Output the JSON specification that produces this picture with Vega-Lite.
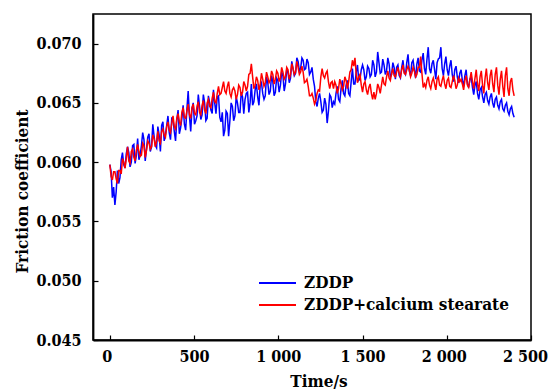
{
 "$schema": "https://vega.github.io/schema/vega-lite/v6.json",
 "width": 438,
 "height": 326,
 "autosize": {"type": "none"},
 "padding": {"left": 93, "top": 14, "right": 19, "bottom": 49},
 "background": "white",
 "data": {"values": [
{"t":0,"ZDDP":0.0598,"ZDDP+calcium stearate":0.0598},
{"t":7.5,"ZDDP":0.0592,"ZDDP+calcium stearate":0.0588},
{"t":15,"ZDDP":0.0570,"ZDDP+calcium stearate":0.0585},
{"t":22.5,"ZDDP":0.0579,"ZDDP+calcium stearate":0.0592},
{"t":30,"ZDDP":0.0564,"ZDDP+calcium stearate":0.0592},
{"t":37.5,"ZDDP":0.0575,"ZDDP+calcium stearate":0.0586},
{"t":45,"ZDDP":0.0593,"ZDDP+calcium stearate":0.0582},
{"t":52.5,"ZDDP":0.0582,"ZDDP+calcium stearate":0.0593},
{"t":60,"ZDDP":0.0587,"ZDDP+calcium stearate":0.0593},
{"t":67.5,"ZDDP":0.0602,"ZDDP+calcium stearate":0.0590},
{"t":75,"ZDDP":0.0608,"ZDDP+calcium stearate":0.0603},
{"t":82.5,"ZDDP":0.0598,"ZDDP+calcium stearate":0.0600},
{"t":90,"ZDDP":0.0595,"ZDDP+calcium stearate":0.0595},
{"t":97.5,"ZDDP":0.0607,"ZDDP+calcium stearate":0.0603},
{"t":105,"ZDDP":0.0613,"ZDDP+calcium stearate":0.0613},
{"t":112.5,"ZDDP":0.0608,"ZDDP+calcium stearate":0.0601},
{"t":120,"ZDDP":0.0596,"ZDDP+calcium stearate":0.0599},
{"t":127.5,"ZDDP":0.0600,"ZDDP+calcium stearate":0.0609},
{"t":135,"ZDDP":0.0614,"ZDDP+calcium stearate":0.0611},
{"t":142.5,"ZDDP":0.0615,"ZDDP+calcium stearate":0.0604},
{"t":150,"ZDDP":0.0599,"ZDDP+calcium stearate":0.0601},
{"t":157.5,"ZDDP":0.0606,"ZDDP+calcium stearate":0.0610},
{"t":165,"ZDDP":0.0620,"ZDDP+calcium stearate":0.0615},
{"t":172.5,"ZDDP":0.0602,"ZDDP+calcium stearate":0.0609},
{"t":180,"ZDDP":0.0606,"ZDDP+calcium stearate":0.0605},
{"t":187.5,"ZDDP":0.0614,"ZDDP+calcium stearate":0.0606},
{"t":195,"ZDDP":0.0625,"ZDDP+calcium stearate":0.0616},
{"t":202.5,"ZDDP":0.0619,"ZDDP+calcium stearate":0.0614},
{"t":210,"ZDDP":0.0601,"ZDDP+calcium stearate":0.0604},
{"t":217.5,"ZDDP":0.0611,"ZDDP+calcium stearate":0.0610},
{"t":225,"ZDDP":0.0621,"ZDDP+calcium stearate":0.0618},
{"t":232.5,"ZDDP":0.0624,"ZDDP+calcium stearate":0.0616},
{"t":240,"ZDDP":0.0609,"ZDDP+calcium stearate":0.0611},
{"t":247.5,"ZDDP":0.0613,"ZDDP+calcium stearate":0.0613},
{"t":255,"ZDDP":0.0632,"ZDDP+calcium stearate":0.0623},
{"t":262.5,"ZDDP":0.0622,"ZDDP+calcium stearate":0.0620},
{"t":270,"ZDDP":0.0614,"ZDDP+calcium stearate":0.0613},
{"t":277.5,"ZDDP":0.0612,"ZDDP+calcium stearate":0.0618},
{"t":285,"ZDDP":0.0630,"ZDDP+calcium stearate":0.0626},
{"t":292.5,"ZDDP":0.0623,"ZDDP+calcium stearate":0.0618},
{"t":300,"ZDDP":0.0609,"ZDDP+calcium stearate":0.0616},
{"t":307.5,"ZDDP":0.0631,"ZDDP+calcium stearate":0.0626},
{"t":315,"ZDDP":0.0634,"ZDDP+calcium stearate":0.0628},
{"t":322.5,"ZDDP":0.0618,"ZDDP+calcium stearate":0.0623},
{"t":330,"ZDDP":0.0623,"ZDDP+calcium stearate":0.0621},
{"t":337.5,"ZDDP":0.0631,"ZDDP+calcium stearate":0.0630},
{"t":345,"ZDDP":0.0639,"ZDDP+calcium stearate":0.0634},
{"t":352.5,"ZDDP":0.0625,"ZDDP+calcium stearate":0.0627},
{"t":360,"ZDDP":0.0619,"ZDDP+calcium stearate":0.0625},
{"t":367.5,"ZDDP":0.0637,"ZDDP+calcium stearate":0.0633},
{"t":375,"ZDDP":0.0636,"ZDDP+calcium stearate":0.0639},
{"t":382.5,"ZDDP":0.0626,"ZDDP+calcium stearate":0.0630},
{"t":390,"ZDDP":0.0618,"ZDDP+calcium stearate":0.0628},
{"t":397.5,"ZDDP":0.0636,"ZDDP+calcium stearate":0.0637},
{"t":405,"ZDDP":0.0644,"ZDDP+calcium stearate":0.0641},
{"t":412.5,"ZDDP":0.0624,"ZDDP+calcium stearate":0.0634},
{"t":420,"ZDDP":0.0629,"ZDDP+calcium stearate":0.0631},
{"t":427.5,"ZDDP":0.0637,"ZDDP+calcium stearate":0.0642},
{"t":435,"ZDDP":0.0648,"ZDDP+calcium stearate":0.0646},
{"t":442.5,"ZDDP":0.0632,"ZDDP+calcium stearate":0.0638},
{"t":450,"ZDDP":0.0627,"ZDDP+calcium stearate":0.0637},
{"t":457.5,"ZDDP":0.0645,"ZDDP+calcium stearate":0.0643},
{"t":465,"ZDDP":0.0660,"ZDDP+calcium stearate":0.0649},
{"t":472.5,"ZDDP":0.0639,"ZDDP+calcium stearate":0.0640},
{"t":480,"ZDDP":0.0626,"ZDDP+calcium stearate":0.0637},
{"t":487.5,"ZDDP":0.0645,"ZDDP+calcium stearate":0.0646},
{"t":495,"ZDDP":0.0650,"ZDDP+calcium stearate":0.0649},
{"t":502.5,"ZDDP":0.0632,"ZDDP+calcium stearate":0.0641},
{"t":510,"ZDDP":0.0635,"ZDDP+calcium stearate":0.0640},
{"t":517.5,"ZDDP":0.0639,"ZDDP+calcium stearate":0.0647},
{"t":525,"ZDDP":0.0657,"ZDDP+calcium stearate":0.0651},
{"t":532.5,"ZDDP":0.0647,"ZDDP+calcium stearate":0.0642},
{"t":540,"ZDDP":0.0636,"ZDDP+calcium stearate":0.0640},
{"t":547.5,"ZDDP":0.0640,"ZDDP+calcium stearate":0.0648},
{"t":555,"ZDDP":0.0657,"ZDDP+calcium stearate":0.0652},
{"t":562.5,"ZDDP":0.0650,"ZDDP+calcium stearate":0.0644},
{"t":570,"ZDDP":0.0635,"ZDDP+calcium stearate":0.0641},
{"t":577.5,"ZDDP":0.0637,"ZDDP+calcium stearate":0.0650},
{"t":585,"ZDDP":0.0656,"ZDDP+calcium stearate":0.0653},
{"t":592.5,"ZDDP":0.0650,"ZDDP+calcium stearate":0.0647},
{"t":600,"ZDDP":0.0644,"ZDDP+calcium stearate":0.0646},
{"t":607.5,"ZDDP":0.0641,"ZDDP+calcium stearate":0.0654},
{"t":615,"ZDDP":0.0661,"ZDDP+calcium stearate":0.0659},
{"t":622.5,"ZDDP":0.0650,"ZDDP+calcium stearate":0.0651},
{"t":630,"ZDDP":0.0641,"ZDDP+calcium stearate":0.0650},
{"t":637.5,"ZDDP":0.0655,"ZDDP+calcium stearate":0.0658},
{"t":645,"ZDDP":0.0656,"ZDDP+calcium stearate":0.0664},
{"t":652.5,"ZDDP":0.0638,"ZDDP+calcium stearate":0.0657},
{"t":660,"ZDDP":0.0634,"ZDDP+calcium stearate":0.0658},
{"t":667.5,"ZDDP":0.0642,"ZDDP+calcium stearate":0.0663},
{"t":675,"ZDDP":0.0622,"ZDDP+calcium stearate":0.0668},
{"t":682.5,"ZDDP":0.0627,"ZDDP+calcium stearate":0.0660},
{"t":690,"ZDDP":0.0643,"ZDDP+calcium stearate":0.0658},
{"t":697.5,"ZDDP":0.0641,"ZDDP+calcium stearate":0.0664},
{"t":705,"ZDDP":0.0622,"ZDDP+calcium stearate":0.0668},
{"t":712.5,"ZDDP":0.0635,"ZDDP+calcium stearate":0.0658},
{"t":720,"ZDDP":0.0650,"ZDDP+calcium stearate":0.0655},
{"t":727.5,"ZDDP":0.0647,"ZDDP+calcium stearate":0.0661},
{"t":735,"ZDDP":0.0635,"ZDDP+calcium stearate":0.0663},
{"t":742.5,"ZDDP":0.0639,"ZDDP+calcium stearate":0.0660},
{"t":750,"ZDDP":0.0655,"ZDDP+calcium stearate":0.0653},
{"t":757.5,"ZDDP":0.0650,"ZDDP+calcium stearate":0.0657},
{"t":765,"ZDDP":0.0642,"ZDDP+calcium stearate":0.0665},
{"t":772.5,"ZDDP":0.0642,"ZDDP+calcium stearate":0.0663},
{"t":780,"ZDDP":0.0659,"ZDDP+calcium stearate":0.0656},
{"t":787.5,"ZDDP":0.0655,"ZDDP+calcium stearate":0.0659},
{"t":795,"ZDDP":0.0641,"ZDDP+calcium stearate":0.0668},
{"t":802.5,"ZDDP":0.0653,"ZDDP+calcium stearate":0.0665},
{"t":810,"ZDDP":0.0658,"ZDDP+calcium stearate":0.0660},
{"t":817.5,"ZDDP":0.0659,"ZDDP+calcium stearate":0.0664},
{"t":825,"ZDDP":0.0642,"ZDDP+calcium stearate":0.0674},
{"t":832.5,"ZDDP":0.0650,"ZDDP+calcium stearate":0.0675},
{"t":840,"ZDDP":0.0666,"ZDDP+calcium stearate":0.0683},
{"t":847.5,"ZDDP":0.0648,"ZDDP+calcium stearate":0.0672},
{"t":855,"ZDDP":0.0651,"ZDDP+calcium stearate":0.0662},
{"t":862.5,"ZDDP":0.0661,"ZDDP+calcium stearate":0.0665},
{"t":870,"ZDDP":0.0666,"ZDDP+calcium stearate":0.0672},
{"t":877.5,"ZDDP":0.0655,"ZDDP+calcium stearate":0.0669},
{"t":885,"ZDDP":0.0648,"ZDDP+calcium stearate":0.0661},
{"t":892.5,"ZDDP":0.0665,"ZDDP+calcium stearate":0.0665},
{"t":900,"ZDDP":0.0667,"ZDDP+calcium stearate":0.0675},
{"t":907.5,"ZDDP":0.0658,"ZDDP+calcium stearate":0.0670},
{"t":915,"ZDDP":0.0653,"ZDDP+calcium stearate":0.0664},
{"t":922.5,"ZDDP":0.0656,"ZDDP+calcium stearate":0.0667},
{"t":930,"ZDDP":0.0672,"ZDDP+calcium stearate":0.0676},
{"t":937.5,"ZDDP":0.0667,"ZDDP+calcium stearate":0.0672},
{"t":945,"ZDDP":0.0657,"ZDDP+calcium stearate":0.0667},
{"t":952.5,"ZDDP":0.0660,"ZDDP+calcium stearate":0.0669},
{"t":960,"ZDDP":0.0673,"ZDDP+calcium stearate":0.0677},
{"t":967.5,"ZDDP":0.0668,"ZDDP+calcium stearate":0.0674},
{"t":975,"ZDDP":0.0656,"ZDDP+calcium stearate":0.0666},
{"t":982.5,"ZDDP":0.0659,"ZDDP+calcium stearate":0.0670},
{"t":990,"ZDDP":0.0671,"ZDDP+calcium stearate":0.0677},
{"t":997.5,"ZDDP":0.0669,"ZDDP+calcium stearate":0.0675},
{"t":1005,"ZDDP":0.0659,"ZDDP+calcium stearate":0.0668},
{"t":1012.5,"ZDDP":0.0665,"ZDDP+calcium stearate":0.0671},
{"t":1020,"ZDDP":0.0676,"ZDDP+calcium stearate":0.0680},
{"t":1027.5,"ZDDP":0.0673,"ZDDP+calcium stearate":0.0676},
{"t":1035,"ZDDP":0.0660,"ZDDP+calcium stearate":0.0670},
{"t":1042.5,"ZDDP":0.0666,"ZDDP+calcium stearate":0.0672},
{"t":1050,"ZDDP":0.0678,"ZDDP+calcium stearate":0.0680},
{"t":1057.5,"ZDDP":0.0676,"ZDDP+calcium stearate":0.0678},
{"t":1065,"ZDDP":0.0667,"ZDDP+calcium stearate":0.0670},
{"t":1072.5,"ZDDP":0.0671,"ZDDP+calcium stearate":0.0674},
{"t":1080,"ZDDP":0.0685,"ZDDP+calcium stearate":0.0683},
{"t":1087.5,"ZDDP":0.0679,"ZDDP+calcium stearate":0.0679},
{"t":1095,"ZDDP":0.0673,"ZDDP+calcium stearate":0.0674},
{"t":1102.5,"ZDDP":0.0675,"ZDDP+calcium stearate":0.0676},
{"t":1110,"ZDDP":0.0688,"ZDDP+calcium stearate":0.0685},
{"t":1117.5,"ZDDP":0.0685,"ZDDP+calcium stearate":0.0680},
{"t":1125,"ZDDP":0.0677,"ZDDP+calcium stearate":0.0674},
{"t":1132.5,"ZDDP":0.0679,"ZDDP+calcium stearate":0.0676},
{"t":1140,"ZDDP":0.0688,"ZDDP+calcium stearate":0.0681},
{"t":1147.5,"ZDDP":0.0686,"ZDDP+calcium stearate":0.0676},
{"t":1155,"ZDDP":0.0678,"ZDDP+calcium stearate":0.0667},
{"t":1162.5,"ZDDP":0.0679,"ZDDP+calcium stearate":0.0668},
{"t":1170,"ZDDP":0.0687,"ZDDP+calcium stearate":0.0670},
{"t":1177.5,"ZDDP":0.0684,"ZDDP+calcium stearate":0.0664},
{"t":1185,"ZDDP":0.0674,"ZDDP+calcium stearate":0.0656},
{"t":1192.5,"ZDDP":0.0676,"ZDDP+calcium stearate":0.0656},
{"t":1200,"ZDDP":0.0680,"ZDDP+calcium stearate":0.0658},
{"t":1207.5,"ZDDP":0.0670,"ZDDP+calcium stearate":0.0654},
{"t":1215,"ZDDP":0.0664,"ZDDP+calcium stearate":0.0649},
{"t":1222.5,"ZDDP":0.0651,"ZDDP+calcium stearate":0.0652},
{"t":1230,"ZDDP":0.0647,"ZDDP+calcium stearate":0.0658},
{"t":1237.5,"ZDDP":0.0654,"ZDDP+calcium stearate":0.0661},
{"t":1245,"ZDDP":0.0658,"ZDDP+calcium stearate":0.0660},
{"t":1252.5,"ZDDP":0.0651,"ZDDP+calcium stearate":0.0672},
{"t":1260,"ZDDP":0.0642,"ZDDP+calcium stearate":0.0679},
{"t":1267.5,"ZDDP":0.0644,"ZDDP+calcium stearate":0.0673},
{"t":1275,"ZDDP":0.0654,"ZDDP+calcium stearate":0.0671},
{"t":1282.5,"ZDDP":0.0649,"ZDDP+calcium stearate":0.0675},
{"t":1290,"ZDDP":0.0633,"ZDDP+calcium stearate":0.0677},
{"t":1297.5,"ZDDP":0.0643,"ZDDP+calcium stearate":0.0668},
{"t":1305,"ZDDP":0.0657,"ZDDP+calcium stearate":0.0662},
{"t":1312.5,"ZDDP":0.0655,"ZDDP+calcium stearate":0.0667},
{"t":1320,"ZDDP":0.0646,"ZDDP+calcium stearate":0.0668},
{"t":1327.5,"ZDDP":0.0651,"ZDDP+calcium stearate":0.0662},
{"t":1335,"ZDDP":0.0649,"ZDDP+calcium stearate":0.0668},
{"t":1342.5,"ZDDP":0.0658,"ZDDP+calcium stearate":0.0665},
{"t":1350,"ZDDP":0.0664,"ZDDP+calcium stearate":0.0658},
{"t":1357.5,"ZDDP":0.0653,"ZDDP+calcium stearate":0.0662},
{"t":1365,"ZDDP":0.0651,"ZDDP+calcium stearate":0.0670},
{"t":1372.5,"ZDDP":0.0662,"ZDDP+calcium stearate":0.0666},
{"t":1380,"ZDDP":0.0669,"ZDDP+calcium stearate":0.0661},
{"t":1387.5,"ZDDP":0.0658,"ZDDP+calcium stearate":0.0664},
{"t":1395,"ZDDP":0.0656,"ZDDP+calcium stearate":0.0672},
{"t":1402.5,"ZDDP":0.0665,"ZDDP+calcium stearate":0.0669},
{"t":1410,"ZDDP":0.0669,"ZDDP+calcium stearate":0.0662},
{"t":1417.5,"ZDDP":0.0658,"ZDDP+calcium stearate":0.0668},
{"t":1425,"ZDDP":0.0656,"ZDDP+calcium stearate":0.0676},
{"t":1432.5,"ZDDP":0.0668,"ZDDP+calcium stearate":0.0678},
{"t":1440,"ZDDP":0.0679,"ZDDP+calcium stearate":0.0686},
{"t":1447.5,"ZDDP":0.0666,"ZDDP+calcium stearate":0.0681},
{"t":1455,"ZDDP":0.0666,"ZDDP+calcium stearate":0.0688},
{"t":1462.5,"ZDDP":0.0676,"ZDDP+calcium stearate":0.0674},
{"t":1470,"ZDDP":0.0682,"ZDDP+calcium stearate":0.0667},
{"t":1477.5,"ZDDP":0.0669,"ZDDP+calcium stearate":0.0672},
{"t":1485,"ZDDP":0.0670,"ZDDP+calcium stearate":0.0674},
{"t":1492.5,"ZDDP":0.0678,"ZDDP+calcium stearate":0.0665},
{"t":1500,"ZDDP":0.0682,"ZDDP+calcium stearate":0.0659},
{"t":1507.5,"ZDDP":0.0678,"ZDDP+calcium stearate":0.0666},
{"t":1515,"ZDDP":0.0669,"ZDDP+calcium stearate":0.0668},
{"t":1522.5,"ZDDP":0.0672,"ZDDP+calcium stearate":0.0661},
{"t":1530,"ZDDP":0.0681,"ZDDP+calcium stearate":0.0657},
{"t":1537.5,"ZDDP":0.0679,"ZDDP+calcium stearate":0.0663},
{"t":1545,"ZDDP":0.0672,"ZDDP+calcium stearate":0.0666},
{"t":1552.5,"ZDDP":0.0674,"ZDDP+calcium stearate":0.0658},
{"t":1560,"ZDDP":0.0686,"ZDDP+calcium stearate":0.0653},
{"t":1567.5,"ZDDP":0.0682,"ZDDP+calcium stearate":0.0659},
{"t":1575,"ZDDP":0.0672,"ZDDP+calcium stearate":0.0653},
{"t":1582.5,"ZDDP":0.0676,"ZDDP+calcium stearate":0.0658},
{"t":1590,"ZDDP":0.0693,"ZDDP+calcium stearate":0.0666},
{"t":1597.5,"ZDDP":0.0684,"ZDDP+calcium stearate":0.0663},
{"t":1605,"ZDDP":0.0675,"ZDDP+calcium stearate":0.0658},
{"t":1612.5,"ZDDP":0.0676,"ZDDP+calcium stearate":0.0665},
{"t":1620,"ZDDP":0.0687,"ZDDP+calcium stearate":0.0672},
{"t":1627.5,"ZDDP":0.0682,"ZDDP+calcium stearate":0.0666},
{"t":1635,"ZDDP":0.0674,"ZDDP+calcium stearate":0.0665},
{"t":1642.5,"ZDDP":0.0677,"ZDDP+calcium stearate":0.0672},
{"t":1650,"ZDDP":0.0688,"ZDDP+calcium stearate":0.0677},
{"t":1657.5,"ZDDP":0.0683,"ZDDP+calcium stearate":0.0671},
{"t":1665,"ZDDP":0.0672,"ZDDP+calcium stearate":0.0669},
{"t":1672.5,"ZDDP":0.0674,"ZDDP+calcium stearate":0.0675},
{"t":1680,"ZDDP":0.0684,"ZDDP+calcium stearate":0.0679},
{"t":1687.5,"ZDDP":0.0680,"ZDDP+calcium stearate":0.0673},
{"t":1695,"ZDDP":0.0670,"ZDDP+calcium stearate":0.0672},
{"t":1702.5,"ZDDP":0.0680,"ZDDP+calcium stearate":0.0676},
{"t":1710,"ZDDP":0.0682,"ZDDP+calcium stearate":0.0680},
{"t":1717.5,"ZDDP":0.0673,"ZDDP+calcium stearate":0.0675},
{"t":1725,"ZDDP":0.0671,"ZDDP+calcium stearate":0.0672},
{"t":1732.5,"ZDDP":0.0680,"ZDDP+calcium stearate":0.0678},
{"t":1740,"ZDDP":0.0686,"ZDDP+calcium stearate":0.0682},
{"t":1747.5,"ZDDP":0.0676,"ZDDP+calcium stearate":0.0675},
{"t":1755,"ZDDP":0.0674,"ZDDP+calcium stearate":0.0674},
{"t":1762.5,"ZDDP":0.0684,"ZDDP+calcium stearate":0.0678},
{"t":1770,"ZDDP":0.0691,"ZDDP+calcium stearate":0.0681},
{"t":1777.5,"ZDDP":0.0677,"ZDDP+calcium stearate":0.0678},
{"t":1785,"ZDDP":0.0673,"ZDDP+calcium stearate":0.0672},
{"t":1792.5,"ZDDP":0.0684,"ZDDP+calcium stearate":0.0675},
{"t":1800,"ZDDP":0.0686,"ZDDP+calcium stearate":0.0680},
{"t":1807.5,"ZDDP":0.0678,"ZDDP+calcium stearate":0.0677},
{"t":1815,"ZDDP":0.0671,"ZDDP+calcium stearate":0.0672},
{"t":1822.5,"ZDDP":0.0683,"ZDDP+calcium stearate":0.0674},
{"t":1830,"ZDDP":0.0688,"ZDDP+calcium stearate":0.0680},
{"t":1837.5,"ZDDP":0.0677,"ZDDP+calcium stearate":0.0680},
{"t":1845,"ZDDP":0.0676,"ZDDP+calcium stearate":0.0689},
{"t":1852.5,"ZDDP":0.0686,"ZDDP+calcium stearate":0.0675},
{"t":1860,"ZDDP":0.0692,"ZDDP+calcium stearate":0.0663},
{"t":1867.5,"ZDDP":0.0679,"ZDDP+calcium stearate":0.0666},
{"t":1875,"ZDDP":0.0674,"ZDDP+calcium stearate":0.0663},
{"t":1882.5,"ZDDP":0.0687,"ZDDP+calcium stearate":0.0669},
{"t":1890,"ZDDP":0.0697,"ZDDP+calcium stearate":0.0672},
{"t":1897.5,"ZDDP":0.0679,"ZDDP+calcium stearate":0.0665},
{"t":1905,"ZDDP":0.0675,"ZDDP+calcium stearate":0.0662},
{"t":1912.5,"ZDDP":0.0683,"ZDDP+calcium stearate":0.0668},
{"t":1920,"ZDDP":0.0686,"ZDDP+calcium stearate":0.0671},
{"t":1927.5,"ZDDP":0.0678,"ZDDP+calcium stearate":0.0666},
{"t":1935,"ZDDP":0.0670,"ZDDP+calcium stearate":0.0661},
{"t":1942.5,"ZDDP":0.0684,"ZDDP+calcium stearate":0.0670},
{"t":1950,"ZDDP":0.0687,"ZDDP+calcium stearate":0.0672},
{"t":1957.5,"ZDDP":0.0688,"ZDDP+calcium stearate":0.0665},
{"t":1965,"ZDDP":0.0697,"ZDDP+calcium stearate":0.0664},
{"t":1972.5,"ZDDP":0.0679,"ZDDP+calcium stearate":0.0669},
{"t":1980,"ZDDP":0.0673,"ZDDP+calcium stearate":0.0673},
{"t":1987.5,"ZDDP":0.0683,"ZDDP+calcium stearate":0.0666},
{"t":1995,"ZDDP":0.0689,"ZDDP+calcium stearate":0.0662},
{"t":2002.5,"ZDDP":0.0678,"ZDDP+calcium stearate":0.0669},
{"t":2010,"ZDDP":0.0673,"ZDDP+calcium stearate":0.0671},
{"t":2017.5,"ZDDP":0.0681,"ZDDP+calcium stearate":0.0664},
{"t":2025,"ZDDP":0.0686,"ZDDP+calcium stearate":0.0663},
{"t":2032.5,"ZDDP":0.0674,"ZDDP+calcium stearate":0.0668},
{"t":2040,"ZDDP":0.0668,"ZDDP+calcium stearate":0.0673},
{"t":2047.5,"ZDDP":0.0678,"ZDDP+calcium stearate":0.0669},
{"t":2055,"ZDDP":0.0681,"ZDDP+calcium stearate":0.0662},
{"t":2062.5,"ZDDP":0.0672,"ZDDP+calcium stearate":0.0665},
{"t":2070,"ZDDP":0.0667,"ZDDP+calcium stearate":0.0671},
{"t":2077.5,"ZDDP":0.0675,"ZDDP+calcium stearate":0.0668},
{"t":2085,"ZDDP":0.0678,"ZDDP+calcium stearate":0.0670},
{"t":2092.5,"ZDDP":0.0669,"ZDDP+calcium stearate":0.0666},
{"t":2100,"ZDDP":0.0664,"ZDDP+calcium stearate":0.0661},
{"t":2107.5,"ZDDP":0.0673,"ZDDP+calcium stearate":0.0669},
{"t":2115,"ZDDP":0.0678,"ZDDP+calcium stearate":0.0673},
{"t":2122.5,"ZDDP":0.0666,"ZDDP+calcium stearate":0.0665},
{"t":2130,"ZDDP":0.0663,"ZDDP+calcium stearate":0.0663},
{"t":2137.5,"ZDDP":0.0670,"ZDDP+calcium stearate":0.0670},
{"t":2145,"ZDDP":0.0672,"ZDDP+calcium stearate":0.0676},
{"t":2152.5,"ZDDP":0.0663,"ZDDP+calcium stearate":0.0668},
{"t":2160,"ZDDP":0.0657,"ZDDP+calcium stearate":0.0662},
{"t":2167.5,"ZDDP":0.0665,"ZDDP+calcium stearate":0.0671},
{"t":2175,"ZDDP":0.0668,"ZDDP+calcium stearate":0.0678},
{"t":2182.5,"ZDDP":0.0658,"ZDDP+calcium stearate":0.0666},
{"t":2190,"ZDDP":0.0653,"ZDDP+calcium stearate":0.0660},
{"t":2197.5,"ZDDP":0.0661,"ZDDP+calcium stearate":0.0672},
{"t":2205,"ZDDP":0.0663,"ZDDP+calcium stearate":0.0677},
{"t":2212.5,"ZDDP":0.0655,"ZDDP+calcium stearate":0.0665},
{"t":2220,"ZDDP":0.0650,"ZDDP+calcium stearate":0.0658},
{"t":2227.5,"ZDDP":0.0657,"ZDDP+calcium stearate":0.0671},
{"t":2235,"ZDDP":0.0659,"ZDDP+calcium stearate":0.0679},
{"t":2242.5,"ZDDP":0.0652,"ZDDP+calcium stearate":0.0667},
{"t":2250,"ZDDP":0.0649,"ZDDP+calcium stearate":0.0661},
{"t":2257.5,"ZDDP":0.0655,"ZDDP+calcium stearate":0.0673},
{"t":2265,"ZDDP":0.0658,"ZDDP+calcium stearate":0.0678},
{"t":2272.5,"ZDDP":0.0650,"ZDDP+calcium stearate":0.0666},
{"t":2280,"ZDDP":0.0646,"ZDDP+calcium stearate":0.0659},
{"t":2287.5,"ZDDP":0.0653,"ZDDP+calcium stearate":0.0674},
{"t":2295,"ZDDP":0.0655,"ZDDP+calcium stearate":0.0680},
{"t":2302.5,"ZDDP":0.0648,"ZDDP+calcium stearate":0.0665},
{"t":2310,"ZDDP":0.0645,"ZDDP+calcium stearate":0.0657},
{"t":2317.5,"ZDDP":0.0651,"ZDDP+calcium stearate":0.0670},
{"t":2325,"ZDDP":0.0653,"ZDDP+calcium stearate":0.0677},
{"t":2332.5,"ZDDP":0.0645,"ZDDP+calcium stearate":0.0664},
{"t":2340,"ZDDP":0.0643,"ZDDP+calcium stearate":0.0655},
{"t":2347.5,"ZDDP":0.0648,"ZDDP+calcium stearate":0.0673},
{"t":2355,"ZDDP":0.0650,"ZDDP+calcium stearate":0.0680},
{"t":2362.5,"ZDDP":0.0643,"ZDDP+calcium stearate":0.0662},
{"t":2370,"ZDDP":0.0640,"ZDDP+calcium stearate":0.0656},
{"t":2377.5,"ZDDP":0.0645,"ZDDP+calcium stearate":0.0668},
{"t":2385,"ZDDP":0.0647,"ZDDP+calcium stearate":0.0671},
{"t":2392.5,"ZDDP":0.0641,"ZDDP+calcium stearate":0.0661},
{"t":2400,"ZDDP":0.0638,"ZDDP+calcium stearate":0.0656}
 ]},
 "transform": [{"fold": ["ZDDP", "ZDDP+calcium stearate"], "as": ["series", "cof"]}],
 "mark": {"type": "line", "strokeWidth": 1.5, "clip": true},
 "encoding": {
  "x": {
   "field": "t", "type": "quantitative",
   "scale": {"domain": [-100, 2500], "nice": false, "zero": false},
   "axis": {
    "title": "Time/s",
    "values": [0, 500, 1000, 1500, 2000, 2500],
    "labelExpr": "replace(format(datum.value, ','), ',', ' ')",
    "labelPadding": 13, "labelFlush": false,
    "labelOffset": {"expr": "datum.value == 2500 ? -6 : (datum.value == 2000 || datum.value == 0) ? -3 : 0"},
    "titleX": 225.5, "titleY": 46, "titleBaseline": "alphabetic", "titleAlign": "center"
   }
  },
  "y": {
   "field": "cof", "type": "quantitative",
   "scale": {"domain": [0.045, 0.0725], "nice": false, "zero": false},
   "axis": {
    "title": "Friction coefficient",
    "values": [0.045, 0.05, 0.055, 0.06, 0.065, 0.07],
    "format": ".3f",
    "labelPadding": 17,
    "titleX": -66, "titleY": 177, "titleBaseline": "alphabetic", "titleAlign": "center", "titleAngle": -90
   }
  },
  "color": {
   "field": "series", "type": "nominal",
   "scale": {"domain": ["ZDDP", "ZDDP+calcium stearate"], "range": ["#0000ff", "#ff0000"]},
   "legend": {
    "title": null, "orient": "none", "legendX": 165, "legendY": 258,
    "padding": 0, "rowPadding": 0, "clipHeight": 22,
    "symbolType": "stroke", "symbolSize": 1369, "symbolStrokeWidth": 2,
    "labelFont": "DejaVu Serif Condensed", "labelFontSize": 17, "labelFontWeight": "bold",
    "labelColor": "black", "labelLimit": 400, "labelOffset": 7
   }
  }
 },
 "config": {
  "view": {"stroke": "black", "strokeWidth": 1.5},
  "axis": {
   "grid": false,
   "domainColor": "black", "domainWidth": 1.8,
   "tickColor": "black", "tickWidth": 1.2, "tickSize": -5,
   "labelFont": "DejaVu Serif Condensed", "labelFontSize": 16, "labelFontWeight": "bold", "labelColor": "black",
   "titleFont": "DejaVu Serif Condensed", "titleFontSize": 17, "titleFontWeight": "bold", "titleColor": "black"
  }
 }
}
